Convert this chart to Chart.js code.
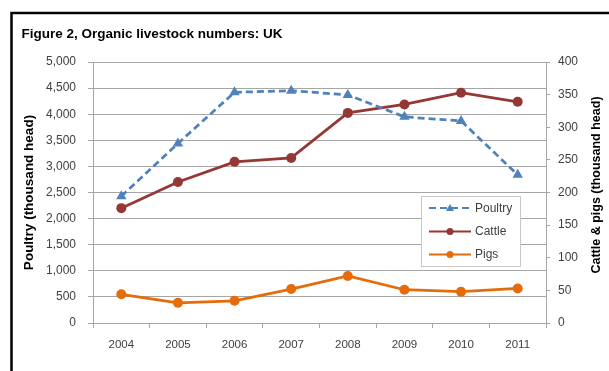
<!DOCTYPE html>
<html><head><meta charset="utf-8">
<script src="https://cdn.jsdelivr.net/npm/chart.js@4.4.1/dist/chart.umd.min.js"></script>
<style>html,body{margin:0;padding:0;background:#fff;overflow:hidden}#wrap{position:absolute;left:0;top:0;width:609px;height:371px}</style>
</head><body><div id="wrap"><canvas id="c" width="609" height="371"></canvas></div>
<script>
const chartTitle = 'Figure 2, Organic livestock numbers: UK';
const years = ['2004','2005','2006','2007','2008','2009','2010','2011'];
const poultry = [2430, 3440, 4420, 4450, 4370, 3950, 3870, 2840];
const cattle = [176, 216, 247, 253, 322, 335, 353, 339];
const pigs = [44, 31, 34, 52, 72, 51, 48, 53];
const leftTitle = 'Poultry (thousand head)';
const rightTitle = 'Cattle & pigs (thousand head)';
const seriesNames = ['Poultry', 'Cattle', 'Pigs'];

const FONT = '"Liberation Sans", Arial, sans-serif';
const GRID = '#a6a6a6';
const TXT = '#404040';

const framePlugin = {
  id: 'frame',
  beforeDraw(chart) {
    const ctx = chart.ctx;
    ctx.save();
    ctx.fillStyle = '#fff';
    ctx.fillRect(0, 0, chart.width, chart.height);
    ctx.strokeStyle = '#000';
    ctx.lineWidth = 2.5;
    ctx.beginPath();
    ctx.moveTo(11.5, chart.height + 5);
    ctx.lineTo(11.5, 13);
    ctx.lineTo(chart.width + 5, 13);
    ctx.stroke();
    ctx.fillStyle = '#000';
    ctx.font = 'bold 13.5px ' + FONT;
    ctx.textBaseline = 'alphabetic';
    ctx.textAlign = 'left';
    ctx.fillText(chartTitle, 21.5, 37.5);
    ctx.restore();
  },
  afterDraw(chart) {
    const ctx = chart.ctx;
    ctx.save();
    // right axis title (reads bottom-to-top)
    ctx.translate(597, 185);
    ctx.rotate(-Math.PI / 2);
    ctx.font = 'bold 12.5px ' + FONT;
    ctx.fillStyle = '#000';
    ctx.textAlign = 'center';
    ctx.textBaseline = 'middle';
    ctx.fillText(rightTitle, 0, 0);
    ctx.restore();

    // legend
    ctx.save();
    const bx = 421.5, by = 196.5, bw = 99, bh = 70;
    ctx.fillStyle = '#fff';
    ctx.fillRect(bx, by, bw, bh);
    ctx.strokeStyle = '#c8c8c8';
    ctx.lineWidth = 1;
    ctx.strokeRect(bx, by, bw, bh);
    const ys = [208, 231.5, 254.5];
    chart.data.datasets.forEach((ds, i) => {
      const y = ys[i];
      ctx.strokeStyle = ds.borderColor;
      ctx.lineWidth = 2;
      ctx.setLineDash(ds.borderDash || []);
      ctx.beginPath();
      ctx.moveTo(429, y);
      ctx.lineTo(471, y);
      ctx.stroke();
      ctx.setLineDash([]);
      ctx.fillStyle = ds.borderColor;
      if (ds.pointStyle === 'triangle') {
        ctx.beginPath();
        ctx.moveTo(450, y - 4);
        ctx.lineTo(454, y + 3);
        ctx.lineTo(446, y + 3);
        ctx.closePath();
        ctx.fill();
      } else {
        ctx.beginPath();
        ctx.arc(450, y, 3.5, 0, Math.PI * 2);
        ctx.fill();
      }
      ctx.fillStyle = TXT;
      ctx.font = '12px ' + FONT;
      ctx.textAlign = 'left';
      ctx.textBaseline = 'middle';
      ctx.fillText(seriesNames[i], 475, y + 0.5);
    });
    ctx.restore();
  }
};

new Chart(document.getElementById('c'), {
  type: 'line',
  data: {
    labels: years,
    datasets: [
      { label: seriesNames[0], data: poultry, yAxisID: 'y', borderColor: '#4f81bd', backgroundColor: '#4f81bd',
        borderWidth: 2.75, borderDash: [7, 4], pointStyle: 'triangle', pointRadius: 6, pointBorderWidth: 0, tension: 0 },
      { label: seriesNames[1], data: cattle, yAxisID: 'y1', borderColor: '#953735', backgroundColor: '#953735',
        borderWidth: 2.75, pointStyle: 'circle', pointRadius: 5, pointBorderWidth: 0, tension: 0 },
      { label: seriesNames[2], data: pigs, yAxisID: 'y1', borderColor: '#e46c0a', backgroundColor: '#e46c0a',
        borderWidth: 2.75, pointStyle: 'circle', pointRadius: 5, pointBorderWidth: 0, tension: 0 }
    ]
  },
  options: {
    responsive: false,
    animation: false,
    devicePixelRatio: 1,
    layout: { padding: { left: 0, right: 0, top: 62, bottom: 0 } },
    plugins: { legend: { display: false }, tooltip: { enabled: false } },
    scales: {
      x: {
        type: 'category',
        offset: true,
        grid: { offset: true, drawOnChartArea: false, drawTicks: true, tickLength: 5, color: GRID },
        border: { color: GRID, width: 1 },
        ticks: { color: TXT, font: { family: FONT, size: 11.5 }, padding: 10, maxRotation: 0, autoSkip: false },
        afterFit(s) { s.height = 48; }
      },
      y: {
        position: 'left',
        min: 0, max: 5000,
        ticks: { stepSize: 500, color: TXT, font: { family: FONT, size: 12 }, padding: 12,
          callback: v => v.toLocaleString('en-US') },
        grid: { color: GRID, tickLength: 5, drawTicks: true },
        border: { color: GRID, width: 1 },
        title: { display: true, text: leftTitle, color: '#000', font: { family: FONT, size: 13.5, weight: 'bold' }, padding: { top: 21, bottom: 0 } },
        afterFit(s) { s.width = 93; }
      },
      y1: {
        position: 'right',
        min: 0, max: 400,
        ticks: { stepSize: 50, color: TXT, font: { family: FONT, size: 12 }, padding: 8 },
        grid: { drawOnChartArea: false, color: GRID, tickLength: 4, drawTicks: true },
        border: { color: GRID, width: 1 },
        afterFit(s) { s.width = 63; }
      }
    }
  },
  plugins: [framePlugin]
});
</script>
</body></html>
